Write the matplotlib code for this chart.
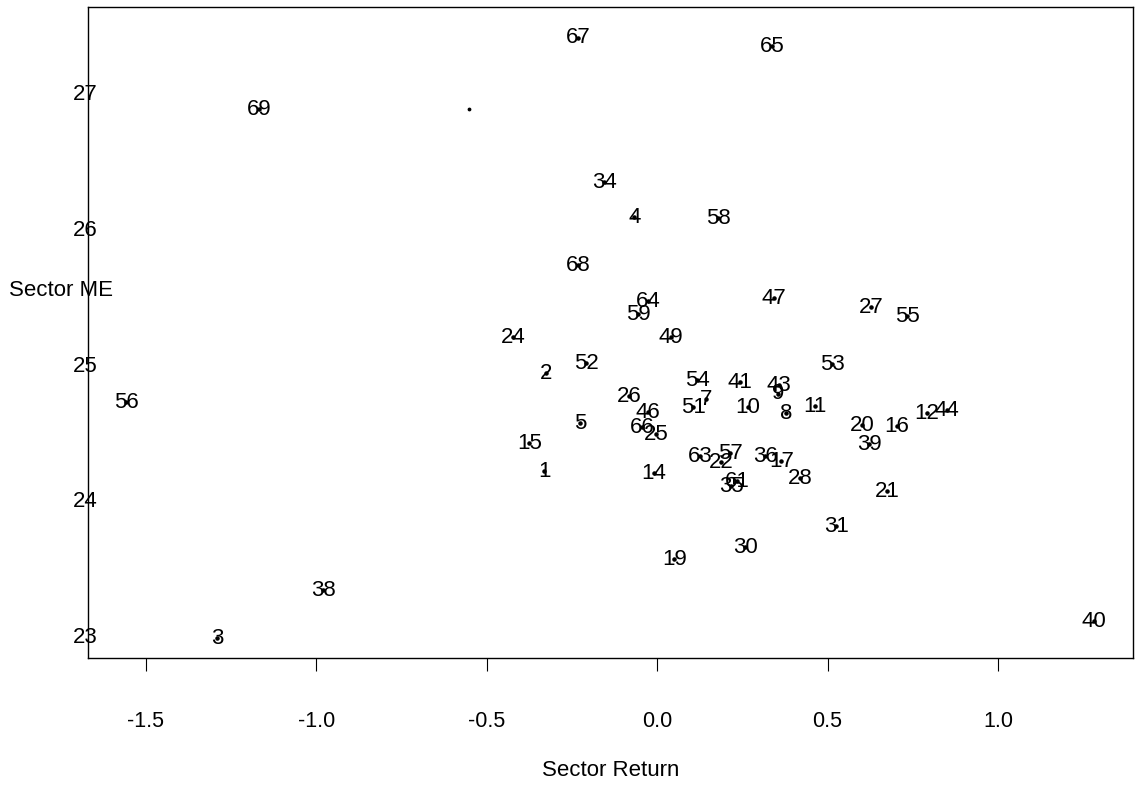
import matplotlib
matplotlib.use("Agg")
from matplotlib import pyplot as plt

plt.rcParams['font.family'] = ['Liberation Sans', 'DejaVu Sans']

# sector numbers, returns and log market equity
sector = [67, 65, 69, 34, 4, 58, 68, 64, 47, 27, 55, 59, 49, 24, 52, 2, 53,
          54, 41, 43, 9, 26, 7, 51, 10, 8, 11, 46, 5, 66, 25, 20, 16, 12, 44,
          39, 15, 1, 14, 63, 57, 22, 36, 17, 28, 35, 61, 21, 31, 30, 19, 38,
          3, 40, 56]
ret = [-0.232, 0.337, -1.167, -0.155, -0.067, 0.179, -0.232, -0.026, 0.343,
       0.628, 0.733, -0.056, 0.041, -0.422, -0.208, -0.326, 0.513, 0.117,
       0.243, 0.358, 0.355, -0.082, 0.144, 0.106, 0.267, 0.378, 0.463,
       -0.026, -0.226, -0.044, -0.003, 0.601, 0.704, 0.792, 0.850, 0.622,
       -0.375, -0.331, -0.009, 0.126, 0.214, 0.188, 0.317, 0.364, 0.419,
       0.217, 0.235, 0.674, 0.525, 0.258, 0.050, -0.979, -1.290, 1.282,
       -1.557]
me = [27.405, 27.339, 26.875, 26.337, 26.079, 26.071, 25.725, 25.460,
      25.482, 25.416, 25.349, 25.364, 25.195, 25.195, 25.003, 24.929,
      24.996, 24.878, 24.863, 24.841, 24.780, 24.760, 24.738, 24.679,
      24.679, 24.634, 24.686, 24.642, 24.560, 24.530, 24.480, 24.546,
      24.539, 24.634, 24.657, 24.406, 24.413, 24.207, 24.192, 24.318,
      24.340, 24.273, 24.318, 24.280, 24.155, 24.097, 24.133, 24.060,
      23.802, 23.647, 23.559, 23.330, 22.976, 23.100, 24.716]

# one unlabelled dot
stray_ret = [-0.551]
stray_me = [26.88]

xticks = [-1.5, -1.0, -0.5, 0.0, 0.5, 1.0]
xlabels = ['-1.5', '-1.0', '-0.5', '0.0', '0.5', '1.0']
yticks = [23, 24, 25, 26, 27]
ylabels = ['23', '24', '25', '26', '27']

fig = plt.figure(figsize=(11.36, 7.94), dpi=100)
ax = fig.add_axes([0.0775, 0.1713, 0.9199, 0.8199])

ax.scatter(ret, me, s=5, color='black', zorder=3)
ax.scatter(stray_ret, stray_me, s=3, color='black', zorder=3)
for s, x, y in zip(sector, ret, me):
    ax.text(x, y, str(s), ha='center', va='center', fontsize=16, color='black')

ax.set_xlim(-1.669, 1.396)
ax.set_ylim(22.83, 27.63)

ax.set_xticks(xticks)
ax.set_xticklabels(xlabels, fontsize=15.5)
ax.tick_params(axis='x', direction='out', length=9, width=0.8, pad=29)

ax.set_yticks(yticks)
ax.set_yticklabels(ylabels, fontsize=16)
ax.tick_params(axis='y', length=0, pad=2)
for t in ax.get_yticklabels():
    t.set_ha('center')

for sp in ax.spines.values():
    sp.set_linewidth(1.0)

ax.set_xlabel('Sector Return', fontsize=16, labelpad=20)
fig.text(0.008, 1 - 290 / 794, 'Sector ME', ha='left', va='center', fontsize=16)

fig.savefig('out.png', dpi=100)
